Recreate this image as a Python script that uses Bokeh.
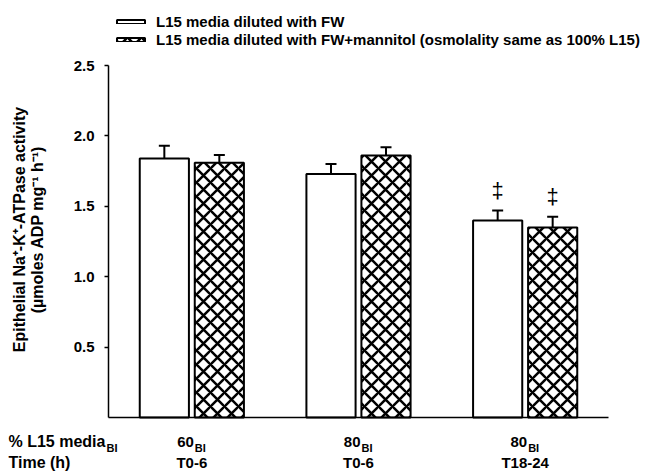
import math
from bokeh.plotting import figure
from bokeh.models import (Range1d, FixedTicker, Whisker, ColumnDataSource,
                          Legend, LegendItem, Label, TeeHead, PrintfTickFormatter)
from bokeh.transform import dodge
from bokeh.embed import file_html
from bokeh.resources import INLINE
from bokeh.core.properties import value

# ---- data ----
pct_l15 = ["60", "80", "80"]
time_h = ["T0-6", "T0-6", "T18-24"]
fw = [1.84, 1.73, 1.40]
fw_err = [0.09, 0.07, 0.07]
mannitol = [1.81, 1.86, 1.35]
mannitol_err = [0.055, 0.06, 0.075]
fw_sig = ["", "", "\u2021"]
mannitol_sig = ["", "", "\u2021"]
y_ticks = [0.5, 1.0, 1.5, 2.0, 2.5]
series_names = ["L15 media diluted with FW",
                "L15 media diluted with FW+mannitol (osmolality same as 100% L15)"]
row_labels = ["% L15 media", "Time (h)"]
subscript = "BI"
y_label_lines = ["Epithelial Na\u207a-K\u207a-ATPase activity",
                 "(\u00b5moles ADP mg\u207b\u00b9 h\u207b\u00b9)"]

# ---- layout (pixels) ----
W_PX, H_PX = 652, 475
AX_L, AX_R, AX_B, AX_T = 108, 608, 417, 65
Y_MAX = 2.5
n = len(pct_l15)
xppu = (AX_R - AX_L) / n
yppu = (AX_B - AX_T) / Y_MAX
x0 = 0.5  # data x of the y-axis
x_range = Range1d(x0 - AX_L / xppu, x0 + (W_PX - AX_L) / xppu)
y_range = Range1d(-(H_PX - AX_B) / yppu, AX_B / yppu)

FONT = "Liberation Sans"
FS = "15px"
SUB = "11px"

xpos = [i + 1 for i in range(n)]
src = ColumnDataSource(dict(
    x=xpos,
    fw=fw, fw_up=[v + e for v, e in zip(fw, fw_err)], fw_sig=fw_sig,
    man=mannitol, man_up=[v + e for v, e in zip(mannitol, mannitol_err)], man_sig=mannitol_sig,
))

p = figure(width=W_PX, height=H_PX, x_range=x_range, y_range=y_range,
           output_backend="svg", toolbar_location=None,
           min_border_left=0, min_border_right=0, min_border_top=0, min_border_bottom=0)
p.title.visible = False
p.outline_line_color = None
p.xgrid.visible = False
p.ygrid.visible = False

OFF = 0.165
BW = 0.295
r1 = p.vbar(x=dodge("x", -OFF), top="fw", width=BW, source=src,
            fill_color="white", line_color="black", line_width=2)
r2 = p.vbar(x=dodge("x", OFF), top="man", width=BW, source=src,
            fill_color="white", line_color="black", line_width=2,
            hatch_pattern="x", hatch_color="black", hatch_weight=2.5, hatch_scale=14)

for off, lo, up, sig in [(-OFF, "fw", "fw_up", "fw_sig"), (OFF, "man", "man_up", "man_sig")]:
    w = Whisker(base=dodge("x", off), lower=lo, upper=up, source=src,
                dimension="height", line_width=2, line_color="black",
                upper_head=TeeHead(size=11, line_width=2, line_color="black"), lower_head=None)
    p.add_layout(w)
    p.text(x=dodge("x", off), y=up, text=sig, source=src,
           y_offset=-20, text_align="center", text_baseline="middle",
           text_font=value(FONT), text_font_size="22px", text_color="black")

# axes (drawn at fixed positions inside the frame)
ya = p.yaxis[0]
ya.fixed_location = x0
ya.bounds = (0, Y_MAX)
ya.ticker = FixedTicker(ticks=y_ticks)
ya.formatter = PrintfTickFormatter(format="%.1f")
ya.major_label_text_font = FONT
ya.major_label_text_font_style = "bold"
ya.major_label_text_font_size = FS
ya.major_label_text_color = "black"
ya.axis_line_width = 1.5
ya.major_tick_line_width = 1.5
ya.major_tick_out = 4
ya.major_tick_in = 0
ya.minor_tick_line_color = None
ya.major_label_standoff = 10

xa = p.xaxis[0]
xa.fixed_location = 0
xa.bounds = (x0, x0 + n)
xa.ticker = FixedTicker(ticks=[])
xa.axis_line_width = 1.5
xa.major_tick_line_color = None
xa.minor_tick_line_color = None
xa.major_label_text_color = None

# legend
legend = Legend(items=[LegendItem(label=series_names[0], renderers=[r1]),
                       LegendItem(label=series_names[1], renderers=[r2])],
                location=(113, H_PX - 48), glyph_width=35, glyph_height=5, label_height=17,
                label_standoff=8, spacing=1, padding=0, margin=0,
                border_line_color=None, background_fill_color=None,
                label_text_font=FONT, label_text_font_style="bold",
                label_text_font_size=FS, label_text_color="black")
p.add_layout(legend)

def lab(text, x, y, size=FS, align="left", xu="screen", angle=0.0, x_offset=0):
    p.add_layout(Label(x=x, y=y, x_units=xu, y_units="screen", text=text, angle=angle,
                       x_offset=x_offset, text_align=align, text_baseline="middle",
                       text_font=FONT, text_font_style="bold", text_font_size=size,
                       text_color="black"))

# bottom row labels
ROW1, ROW2, ROWSUB = H_PX - 441, H_PX - 462, H_PX - 447
lab(row_labels[0], 8, ROW1, size="16px")
lab(subscript, 106, ROWSUB, size=SUB)
lab(row_labels[1], 8, ROW2, size="16px")
for xi, pc, t in zip(xpos, pct_l15, time_h):
    lab(pc, xi, ROW1, align="right", xu="data", x_offset=2)
    lab(subscript, xi, ROWSUB, size=SUB, align="left", xu="data", x_offset=3)
    lab(t, xi, ROW2, align="center", xu="data")

# y label
lab(y_label_lines[0], 19, H_PX - 229, size="16px", align="center", angle=math.pi / 2)
lab(y_label_lines[1], 37, H_PX - 229, size="16px", align="center", angle=math.pi / 2)

open("out.html", "w").write(file_html(p, INLINE))
